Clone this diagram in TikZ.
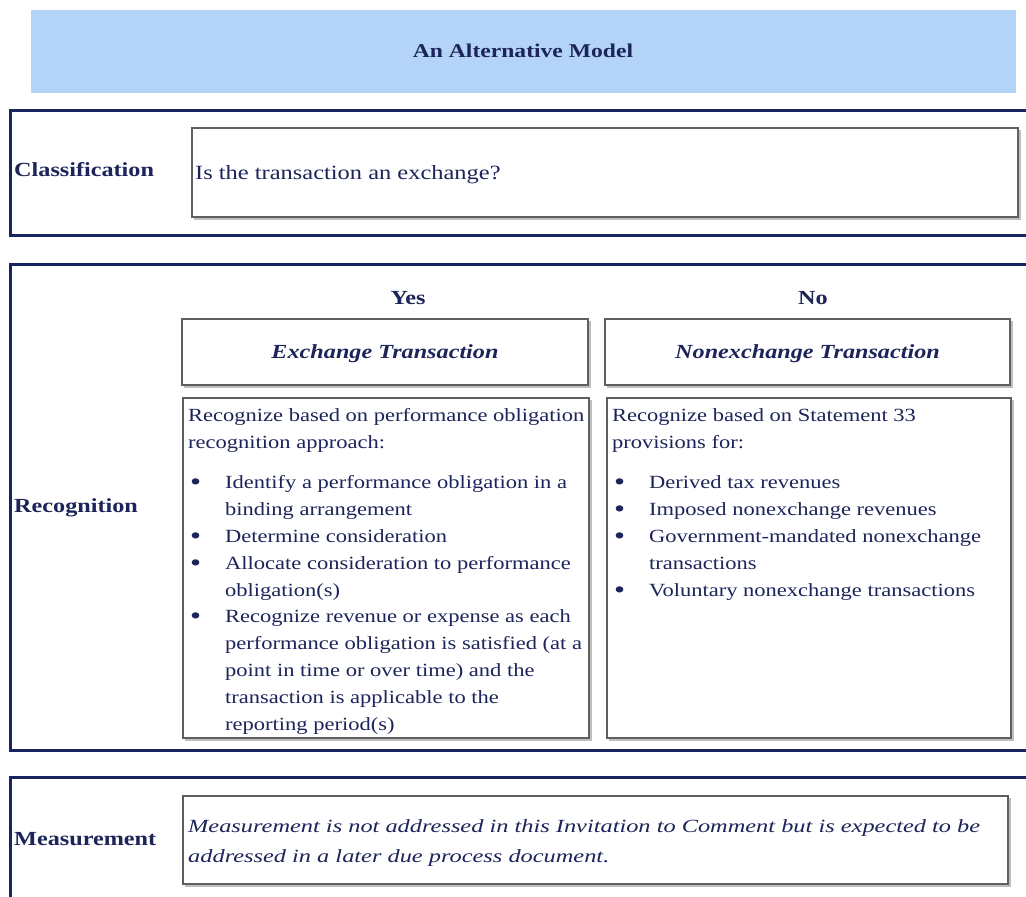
\documentclass[tikz,border=0pt]{standalone}
\usepackage{fontspec}
\setmainfont{Liberation Serif}[FakeStretch=1.21]
\newfontfamily\measfont{Liberation Serif}[FakeStretch=1.31]
\definecolor{navy}{RGB}{22,36,96}
\definecolor{ink}{RGB}{28,36,90}
\definecolor{titlebg}{RGB}{179,212,247}
\definecolor{boxgray}{RGB}{95,95,95}
\definecolor{shadowgray}{RGB}{190,190,190}
\begin{document}
\begin{tikzpicture}[x=1pt,y=-1pt,
  frame/.style={draw=navy,line width=3pt},
  ibox/.style={draw=boxgray,line width=1.6pt,inner sep=0pt},
  body/.style={font=\fontsize{18.6}{24}\selectfont,text=ink,inner sep=0pt,anchor=base west},
  lbl/.style={font=\fontsize{20}{24}\bfseries\selectfont,text=ink,inner sep=0pt,anchor=base west},
  yn/.style={font=\fontsize{20}{24}\bfseries\selectfont,text=ink,inner sep=0pt,anchor=base},
  head/.style={font=\fontsize{20}{24}\bfseries\itshape\selectfont,text=ink,inner sep=0pt,anchor=base},
  bul/.style={font=\fontsize{26}{24}\selectfont,text=ink,inner sep=0pt,anchor=base west},
  meas/.style={font=\measfont\fontsize{18.6}{24}\itshape\selectfont,text=ink,inner sep=0pt,anchor=base west}]
\useasboundingbox (0,0) rectangle (1026,897);
\fill[white] (0,0) rectangle (1026,897);
% title
\fill[titlebg] (31,10) rectangle (1016,93);
\node[font=\fontsize{19.5}{24}\bfseries\selectfont,text=ink,inner sep=0pt,anchor=base] (title) at (523,57) {An Alternative Model};
% frames
\draw[frame] (1027,110) -- (10,110) -- (10,235) -- (1027,235);
\draw[frame] (1027,264) -- (10,264) -- (10,750) -- (1027,750);
\draw[frame] (1027,777) -- (10,777) -- (10,898);
% shadows
\foreach \a/\b/\c/\d in {192/128/1018/217, 182/319/588/385, 605/319/1010/385, 183/398/589/738, 607/398/1011/738, 183/796/1008/884}
  \draw[shadowgray,line width=1.5pt] (\a+2,\d+2) -- (\c+2,\d+2) -- (\c+2,\b+2);
% inner boxes
\node[ibox,minimum width=826pt,minimum height=89pt] (q) at (605,172.5) {};
\node[ibox,minimum width=406pt,minimum height=66pt] (ex) at (385,352) {};
\node[ibox,minimum width=405pt,minimum height=66pt] (nex) at (807.5,352) {};
\node[ibox,minimum width=406pt,minimum height=340pt] (exl) at (386,568) {};
\node[ibox,minimum width=404pt,minimum height=340pt] (nexl) at (809,568) {};
\node[ibox,minimum width=825pt,minimum height=88pt] (meas) at (595.5,840) {};
% labels
\node[lbl] (cls) at (14,176) {Classification};
\node[lbl] (rec) at (14,512) {Recognition};
\node[lbl] (mea) at (14,845) {Measurement};
\node[body,font=\fontsize{20.2}{24}\selectfont] (qt) at (195,179) {Is the transaction an exchange?};
\node[yn] (yes) at (408,304) {Yes};
\node[yn] (no) at (813,304) {No};
\node[head] (ext) at (385,358) {Exchange Transaction};
\node[head] (nxt) at (807.5,358) {Nonexchange Transaction};
% left content
\node[body] (l1) at (188,421) {Recognize based on performance obligation};
\node[body] (l2) at (188,448) {recognition approach:};
\foreach \y in {488,542,569,622}
  \node[bul] at (190,\y+2) {•};
\node[body] (l3) at (225,488) {Identify a performance obligation in a};
\node[body] (l4) at (225,515) {binding arrangement};
\node[body] (l5) at (225,542) {Determine consideration};
\node[body] (l6) at (225,569) {Allocate consideration to performance};
\node[body] (l7) at (225,596) {obligation(s)};
\node[body] (l8) at (225,622) {Recognize revenue or expense as each};
\node[body] (l9) at (225,649) {performance obligation is satisfied (at a};
\node[body] (l10) at (225,676) {point in time or over time) and the};
\node[body] (l11) at (225,703) {transaction is applicable to the};
\node[body] (l12) at (225,730) {reporting period(s)};
% right content
\node[body] (r1) at (612,421) {Recognize based on Statement 33};
\node[body] (r2) at (612,448) {provisions for:};
\foreach \y in {488,515,542,596}
  \node[bul] at (614,\y+2) {•};
\node[body] (r3) at (649,488) {Derived tax revenues};
\node[body] (r4) at (649,515) {Imposed nonexchange revenues};
\node[body] (r5) at (649,542) {Government-mandated nonexchange};
\node[body] (r6) at (649,569) {transactions};
\node[body] (r7) at (649,596) {Voluntary nonexchange transactions};
% measurement
\node[meas] (m1) at (188,832) {Measurement is not addressed in this Invitation to Comment but is expected to be};
\node[meas] (m2) at (188,862) {addressed in a later due process document.};
\end{tikzpicture}
\end{document}
